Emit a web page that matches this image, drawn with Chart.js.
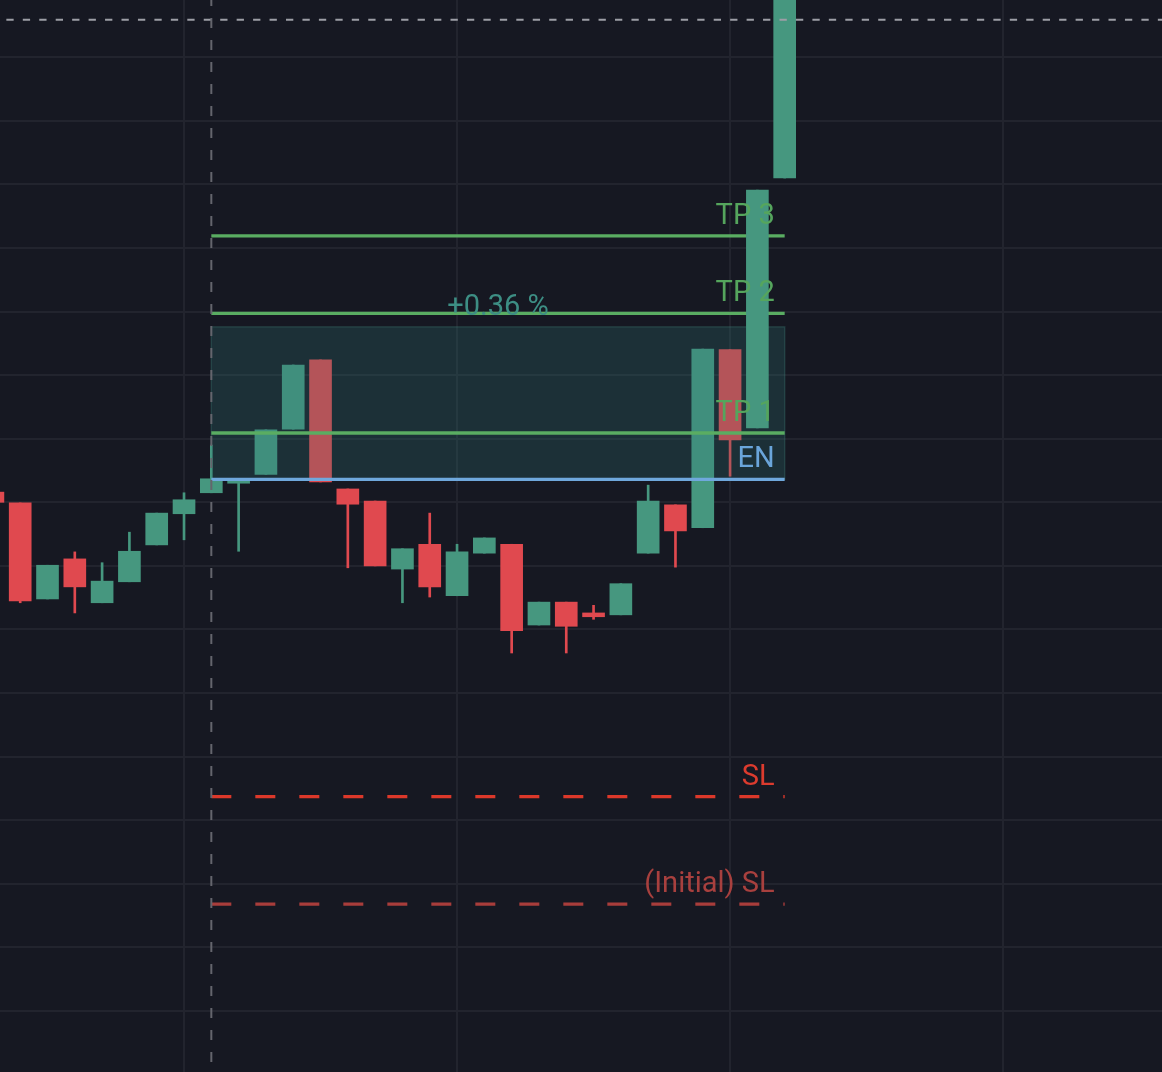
<!DOCTYPE html>
<html>
<head>
<meta charset="utf-8">
<script src="https://cdn.jsdelivr.net/npm/chart.js@4.4.0/dist/chart.umd.min.js"></script>
<style>
  html, body { margin: 0; padding: 0; background: #161822; }
  #wrap { width: 1162px; height: 1072px; }
</style>
</head>
<body>
<div id="wrap"><canvas id="chart"></canvas></div>
<script>
// Candles: bar index, open, high, low, close
const candleIdx = [3, 4, 5, 6, 7, 8, 9, 10, 11, 12, 13, 14, 15, 16, 17, 18, 19, 20, 21, 22, 23, 24, 25, 26, 27, 28, 29, 30, 31, 32];
const opens  = [181.6, 179.9, 164.8, 171.1, 164.2, 167.5, 173.3, 178.2, 181.5, 183.0, 184.4, 191.5, 202.4, 182.1, 180.2, 169.5, 173.4, 165.3, 172.0, 173.4, 160.7, 164.3, 162.6, 162.3, 172.0, 179.6, 176.0, 204.0, 191.7, 231.0];
const highs  = [181.6, 179.9, 170.1, 172.2, 170.5, 175.3, 178.3, 181.5, 189.0, 183.7, 191.4, 201.6, 202.4, 182.1, 180.2, 172.7, 178.3, 173.4, 174.4, 173.4, 164.3, 164.3, 163.8, 167.2, 182.7, 179.6, 204.1, 204.0, 229.1, 266.0];
const lows   = [180.0, 164.2, 164.8, 162.6, 164.2, 167.5, 173.3, 174.1, 181.5, 172.3, 184.4, 191.5, 183.2, 169.7, 170.0, 164.2, 165.1, 165.3, 172.0, 156.3, 160.7, 156.3, 161.6, 162.3, 172.0, 169.8, 176.0, 184.1, 191.7, 231.0];
const closes = [180.0, 164.5, 170.1, 166.7, 167.6, 172.3, 178.3, 180.4, 183.7, 183.7, 191.4, 201.6, 183.2, 179.7, 170.0, 172.7, 166.7, 172.2, 174.4, 159.8, 164.3, 160.5, 162.0, 167.2, 180.2, 175.5, 204.1, 189.8, 229.1, 266.0];
const liveFrom = 31; // candles from here on are painted above the trade drawing

// Trade levels
const levelNames  = ['TP 3', 'TP 2', 'TP 1', 'EN', 'SL', '(Initial) SL'];
const levelPrices = [221.9, 209.7, 190.9, 183.6, 133.7, 116.8];
const levelColors = ['#5aad62', '#5aad62', '#5aad62', '#6fa8dc', '#dc382a', '#a83d3b'];
const levelText   = ['#55a55d', '#55a55d', '#55a55d', '#6aa5da', '#dc3b2e', '#a8403e'];
const levelDashed = [false, false, false, false, true, true];
const tradeStart = 11;
const tradeEnd = 32;
const runHigh = 207.6;
const pnlLabel = '+0.36 %';
const lastPrice = 255.9;

const GREEN = '#46977f';
const RED = '#e0494f';

const colorOf = (i) => closes[i] >= opens[i] ? GREEN : RED;

const wickData = candleIdx.map((x, i) => ({ x: x, y: [lows[i], highs[i]] }));
const bodyData = [], bodyColors = [], liveData = [], liveColors = [];
candleIdx.forEach((x, i) => {
  if (x >= liveFrom) {
    liveData.push({ x: x, y: [opens[i], closes[i]] });
    liveColors.push(colorOf(i));
  } else {
    bodyData.push({ x: x, y: [opens[i], closes[i]] });
    bodyColors.push(colorOf(i));
  }
});

// Draws the trade box and level lines right after the main candle bodies
const tradePlugin = {
  id: 'trade',
  afterDatasetDraw(chart, args) {
    if (args.index !== 1) return;
    const { ctx, scales: { x, y } } = chart;
    const x0 = x.getPixelForValue(tradeStart);
    const x1 = x.getPixelForValue(tradeEnd);
    const yTop = y.getPixelForValue(runHigh);
    const yEn = y.getPixelForValue(levelPrices[3]);
    ctx.save();
    ctx.fillStyle = 'rgba(46, 120, 119, 0.25)';
    ctx.fillRect(x0, yTop, x1 - x0, yEn - yTop);
    ctx.strokeStyle = 'rgba(70, 150, 140, 0.25)';
    ctx.lineWidth = 1.5;
    ctx.strokeRect(x0, yTop, x1 - x0, yEn - yTop);

    levelPrices.forEach((p, i) => {
      const py = y.getPixelForValue(p);
      ctx.beginPath();
      ctx.strokeStyle = levelColors[i];
      ctx.lineWidth = 3.3;
      ctx.setLineDash(levelDashed[i] ? [20, 24] : []);
      ctx.moveTo(x0, py);
      ctx.lineTo(x1, py);
      ctx.stroke();
    });
    ctx.restore();
  },
  afterDatasetsDraw(chart) {
    const { ctx, scales: { x, y } } = chart;
    const x0 = x.getPixelForValue(tradeStart);
    const x1 = x.getPixelForValue(tradeEnd);
    ctx.save();
    ctx.font = '29px Roboto';
    ctx.textBaseline = 'alphabetic';
    ctx.textAlign = 'right';
    levelPrices.forEach((p, i) => {
      ctx.fillStyle = levelText[i];
      ctx.fillText(levelNames[i], x1 - 10, y.getPixelForValue(p) - 12);
    });
    ctx.textAlign = 'center';
    ctx.fillStyle = '#3d8e84';
    ctx.fillText(pnlLabel, (x0 + x1) / 2, y.getPixelForValue(runHigh) - 12);
    ctx.restore();
  },
  afterDraw(chart) {
    const { ctx, chartArea, scales: { x, y } } = chart;
    ctx.save();
    // last price line
    const py = y.getPixelForValue(lastPrice);
    ctx.beginPath();
    ctx.strokeStyle = '#9d9ea6';
    ctx.lineWidth = 2;
    ctx.setLineDash([7.3, 9.15]);
    ctx.moveTo(chartArea.left - 10.1, py);
    ctx.lineTo(chartArea.right, py);
    ctx.stroke();
    // entry time line
    const px = x.getPixelForValue(tradeStart);
    ctx.beginPath();
    ctx.strokeStyle = '#64656d';
    ctx.setLineDash([10, 12]);
    ctx.moveTo(px, chartArea.top - 4);
    ctx.lineTo(px, chartArea.bottom);
    ctx.stroke();
    ctx.restore();
  }
};

new Chart(document.getElementById('chart'), {
  type: 'bar',
  data: {
    datasets: [
      { label: 'wicks', data: wickData, backgroundColor: wickData.map((d, i) => colorOf(i)), barThickness: 2, grouped: false, order: 3 },
      { label: 'bodies', data: bodyData, backgroundColor: bodyColors, barThickness: 22, grouped: false, order: 2 },
      { label: 'live', data: liveData, backgroundColor: liveColors, barThickness: 22, grouped: false, order: 1 }
    ]
  },
  options: {
    responsive: true,
    maintainAspectRatio: false,
    animation: false,
    layout: { padding: 0 },
    plugins: { legend: { display: false }, tooltip: { enabled: false } },
    scales: {
      x: {
        type: 'linear',
        offset: false,
        min: 3.26,
        max: 45.82,
        grid: { color: '#22242e', lineWidth: 2, drawTicks: false, offset: false },
        border: { display: false },
        ticks: { display: false, stepSize: 10, includeBounds: false },
        afterFit(scale) { scale.height = 0; }
      },
      y: {
        min: 90.4,
        max: 259,
        grid: { color: '#22242e', lineWidth: 2, drawTicks: false },
        border: { display: false },
        ticks: { display: false, stepSize: 10, includeBounds: false },
        afterFit(scale) { scale.width = 0; }
      }
    }
  },
  plugins: [tradePlugin]
});
</script>
</body>
</html>
